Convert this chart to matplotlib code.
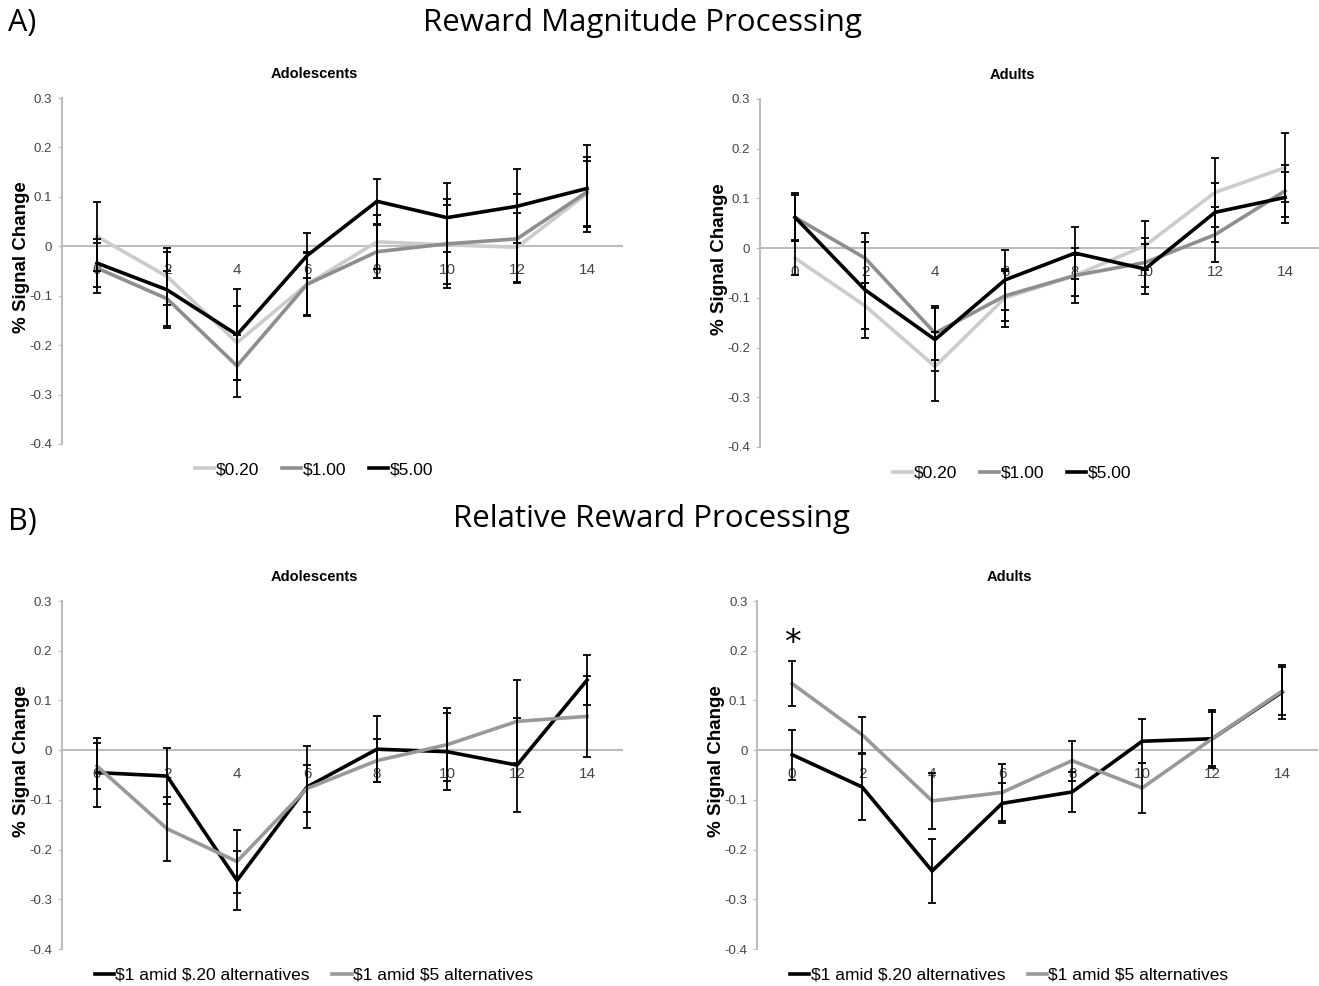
import numpy as np
import matplotlib.pyplot as plt
from matplotlib.ticker import FuncFormatter

time_pts = [0, 2, 4, 6, 8, 10, 12, 14]

# A) reward magnitude, adolescents
adol_020 = [0.020, -0.061, -0.195, -0.077, 0.009, 0.003, -0.002, 0.107]
adol_020_err = [0.070, 0.058, 0.075, 0.065, 0.055, 0.080, 0.070, 0.065]
adol_100 = [-0.044, -0.106, -0.242, -0.077, -0.011, 0.005, 0.015, 0.110]
adol_100_err = [0.050, 0.055, 0.063, 0.063, 0.054, 0.090, 0.090, 0.070]
adol_500 = [-0.034, -0.088, -0.179, -0.019, 0.091, 0.058, 0.081, 0.117]
adol_500_err = [0.048, 0.077, 0.092, 0.046, 0.045, 0.070, 0.075, 0.088]

# A) reward magnitude, adults
adult_020 = [-0.020, -0.116, -0.238, -0.100, -0.055, 0.005, 0.112, 0.162]
adult_020_err = [0.035, 0.046, 0.070, 0.058, 0.042, 0.050, 0.070, 0.070]
adult_100 = [0.062, -0.020, -0.171, -0.096, -0.055, -0.029, 0.027, 0.115]
adult_100_err = [0.048, 0.050, 0.055, 0.050, 0.055, 0.050, 0.055, 0.053]
adult_500 = [0.062, -0.084, -0.184, -0.064, -0.010, -0.042, 0.072, 0.102]
adult_500_err = [0.045, 0.096, 0.063, 0.060, 0.052, 0.050, 0.060, 0.052]

# B) relative reward, adolescents
adol_amid020 = [-0.045, -0.052, -0.262, -0.074, 0.002, -0.003, -0.030, 0.141]
adol_amid020_err = [0.070, 0.056, 0.060, 0.082, 0.066, 0.077, 0.095, 0.050]
adol_amid5 = [-0.032, -0.158, -0.224, -0.077, -0.021, 0.011, 0.058, 0.068]
adol_amid5_err = [0.046, 0.064, 0.064, 0.048, 0.043, 0.073, 0.084, 0.082]

# B) relative reward, adults
adult_amid020 = [-0.009, -0.074, -0.243, -0.107, -0.084, 0.018, 0.023, 0.117]
adult_amid020_err = [0.050, 0.066, 0.065, 0.040, 0.040, 0.044, 0.054, 0.055]
adult_amid5 = [0.134, 0.031, -0.102, -0.085, -0.021, -0.076, 0.023, 0.119]
adult_amid5_err = [0.045, 0.036, 0.057, 0.057, 0.040, 0.050, 0.058, 0.048]

mag_labels = [r'\$0.20', r'\$1.00', r'\$5.00']
mag_colors = ['#cccccc', '#8e8e8e', '#000000']
rel_labels = [r'\$1 amid \$.20 alternatives', r'\$1 amid \$5 alternatives']
rel_colors = ['#000000', '#999999']

narrow = ['Liberation Sans Narrow', 'Liberation Sans', 'DejaVu Sans']


def style_axis(ax, title):
    ax.set_xlim(-1, 15)
    ax.set_ylim(-0.4, 0.3)
    ax.set_xticks(time_pts)
    ax.set_yticks(np.arange(-0.4, 0.31, 0.1))
    ax.yaxis.set_major_formatter(FuncFormatter(lambda v, p: '0' if abs(v) < 1e-9 else f'{v:.1f}'))
    for s in ['top', 'right']:
        ax.spines[s].set_visible(False)
    ax.spines['left'].set_color('#bdbdbd')
    ax.spines['left'].set_linewidth(1.5)
    ax.spines['bottom'].set_position(('data', 0))
    ax.spines['bottom'].set_color('#bdbdbd')
    ax.spines['bottom'].set_linewidth(1.5)
    ax.tick_params(axis='y', length=3, color='#bdbdbd', labelsize=9.5, labelcolor='#444444', pad=4)
    ax.tick_params(axis='x', length=0, labelsize=11, labelcolor='#444444', pad=12)
    for lab in ax.get_xticklabels() + ax.get_yticklabels():
        lab.set_family(narrow)
    ax.set_ylabel('% Signal Change', fontsize=13.5, fontweight='bold', family='Liberation Sans')
    ax.yaxis.set_label_coords(-0.058, 0.54)
    ax.text(0.45, 1.07, title, transform=ax.transAxes, ha='center', va='center',
            fontsize=10.5, fontweight='bold', family='Liberation Sans')


def draw(ax, series, errs, labels, colors):
    for y, e, lab, c in zip(series, errs, labels, colors):
        ax.plot(time_pts, y, color=c, lw=2.6, label=lab, zorder=3)
    for y, e in zip(series, errs):
        ax.errorbar(time_pts, y, yerr=e, fmt='none', ecolor='black', elinewidth=1.3,
                    capsize=3, capthick=1.3, zorder=4)
    ax.legend(loc='center', bbox_to_anchor=(0.45, -0.075), ncol=len(labels), frameon=False,
              handlelength=1.1, handletextpad=0.1, columnspacing=1.3,
              prop={'family': narrow, 'size': 12.5})


fig = plt.figure(figsize=(13.19, 9.86), dpi=100)

ax1 = fig.add_axes([0.0470, 0.5497, 0.4246, 0.3509])
ax2 = fig.add_axes([0.5762, 0.5467, 0.4246, 0.3529])
ax3 = fig.add_axes([0.0470, 0.0375, 0.4246, 0.3529])
ax4 = fig.add_axes([0.5740, 0.0375, 0.4246, 0.3529])

draw(ax1, [adol_020, adol_100, adol_500], [adol_020_err, adol_100_err, adol_500_err],
     mag_labels, mag_colors)
draw(ax2, [adult_020, adult_100, adult_500], [adult_020_err, adult_100_err, adult_500_err],
     mag_labels, mag_colors)
draw(ax3, [adol_amid020, adol_amid5], [adol_amid020_err, adol_amid5_err], rel_labels, rel_colors)
draw(ax4, [adult_amid020, adult_amid5], [adult_amid020_err, adult_amid5_err], rel_labels, rel_colors)

style_axis(ax1, 'Adolescents')
style_axis(ax2, 'Adults')
style_axis(ax3, 'Adolescents')
style_axis(ax4, 'Adults')

ax4.text(0, 0.215, '*', ha='center', va='center', fontsize=24, family='DejaVu Sans')

fig.text(0.006, 0.977, 'A)', fontsize=22, family='Open Sans', va='center')
fig.text(0.487, 0.977, 'Reward Magnitude Processing', fontsize=22.5, family='Open Sans',
         ha='center', va='center')
fig.text(0.006, 0.471, 'B)', fontsize=22, family='Open Sans', va='center')
fig.text(0.494, 0.474, 'Relative Reward Processing', fontsize=22.5, family='Open Sans',
         ha='center', va='center')

fig.savefig('out.png', dpi=100)
